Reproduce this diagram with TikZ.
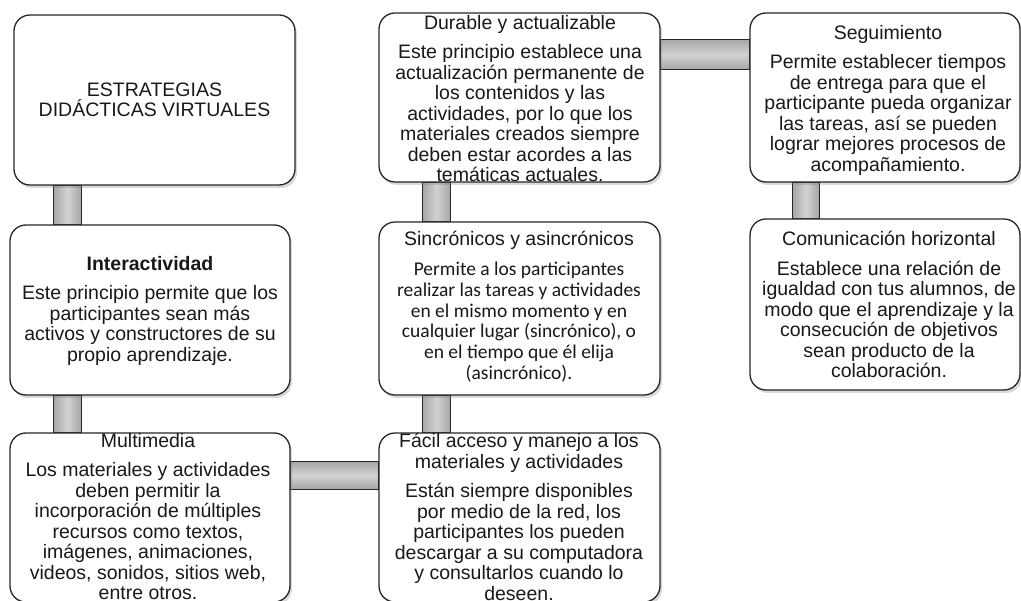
\documentclass[tikz,border=0pt]{standalone}
\usepackage{fontspec}
\setmainfont{Liberation Sans}
\newfontfamily\calibrifont{Carlito}
\usetikzlibrary{shadows,positioning,backgrounds}

\begin{document}
\begin{tikzpicture}[x=1pt, y=-1pt,
    box/.style={draw=black!85, line width=1.3pt, rounded corners=16pt, fill=white,
        drop shadow={shadow xshift=2pt, shadow yshift=-3pt, opacity=0.3}, inner sep=0pt},
    txt/.style={align=center, inner sep=0pt, anchor=north, text=black!90,
        font=\fontsize{19.5}{20.5}\selectfont},
    vbar/.style={draw=black!85, line width=1.3pt, left color=gray!70, right color=gray!70, middle color=gray!35},
    hbar/.style={draw=black!85, line width=1.3pt, top color=gray!70, bottom color=gray!70, middle color=gray!35}]
    \useasboundingbox (0,0) rectangle (1021,601);

    % Left column
    \node[box, minimum width=281pt, minimum height=170pt] (main) at (154.5,100) {};
    \node[box, minimum width=280pt, minimum height=170pt] (inter) at (150,310) {};
    \node[box, minimum width=280pt, minimum height=169pt] (multi) at (150,517.5) {};

    % Middle column
    \node[box, minimum width=281pt, minimum height=169pt] (durable) at (519.5,97.5) {};
    \node[box, minimum width=281pt, minimum height=173pt] (sinc) at (519.5,308.5) {};
    \node[box, minimum width=281pt, minimum height=169pt] (facil) at (519.5,517.5) {};

    % Right column
    \node[box, minimum width=270pt, minimum height=169pt] (segui) at (885,97.5) {};
    \node[box, minimum width=270pt, minimum height=171pt] (comun) at (885,304.5) {};

    % Gray bars joining the boxes
    \begin{scope}[on background layer]
        \draw[vbar] ([xshift=44pt]inter.north west) rectangle ([xshift=72pt]inter.north west |- main.south);
        \draw[vbar] ([xshift=44pt]inter.south west) rectangle ([xshift=72pt]inter.south west |- multi.north);
        \draw[hbar] ([yshift=-29pt]multi.north east) rectangle ([yshift=-57pt]multi.north east -| facil.west);
        \draw[vbar] ([xshift=44pt]facil.north west) rectangle ([xshift=72pt]facil.north west |- sinc.south);
        \draw[vbar] ([xshift=44pt]sinc.north west) rectangle ([xshift=72pt]sinc.north west |- durable.south);
        \draw[hbar] ([yshift=-27pt]durable.north east) rectangle ([yshift=-57pt]durable.north east -| segui.west);
        \draw[vbar] ([xshift=43pt]comun.north west) rectangle ([xshift=70pt]comun.north west |- segui.south);
    \end{scope}

    % Texts
    \node[txt, anchor=center] (main-txt) at (main.center) {ESTRATEGIAS\\DIDÁCTICAS VIRTUALES};
    \node[txt] (inter-txt) at (150,256) {\textbf{Interactividad}\\[9pt]Este principio permite que los\\participantes sean más\\activos y constructores de su\\propio aprendizaje.};
    \node[txt] (multi-txt) at (148,433) {Multimedia\\[9pt]Los materiales y actividades\\deben permitir la\\incorporación de múltiples\\recursos como textos,\\imágenes, animaciones,\\videos, sonidos, sitios web,\\entre otros.};
    \node[txt] (durable-txt) at (520,15) {Durable y actualizable\\[9pt]Este principio establece una\\actualización permanente de\\los contenidos y las\\actividades, por lo que los\\materiales creados siempre\\deben estar acordes a las\\temáticas actuales.};
    \node[txt] (sinc-title) at (519,231) {Sincrónicos y asincrónicos};
    \node[txt, font=\calibrifont\fontsize{19.5}{20.7}\selectfont] (sinc-txt) at (519,262) {Permite a los participantes\\realizar las tareas y actividades\\en el mismo momento y en\\cualquier lugar (sincrónico), o\\en el tiempo que él elija\\(asincrónico).};
    \node[txt] (facil-txt) at (519,433) {Fácil acceso y manejo a los\\materiales y actividades\\[9pt]Están siempre disponibles\\por medio de la red, los\\participantes los pueden\\descargar a su computadora\\y consultarlos cuando lo\\deseen.};
    \node[txt] (segui-txt) at (888,25) {Seguimiento\\[9pt]Permite establecer tiempos\\de entrega para que el\\participante pueda organizar\\las tareas, así se pueden\\lograr mejores procesos de\\acompañamiento.};
    \node[txt] (comun-txt) at (889,231) {Comunicación horizontal\\[9pt]Establece una relación de\\igualdad con tus alumnos, de\\modo que el aprendizaje y la\\consecución de objetivos\\sean producto de la\\colaboración.};
\end{tikzpicture}
\end{document}
